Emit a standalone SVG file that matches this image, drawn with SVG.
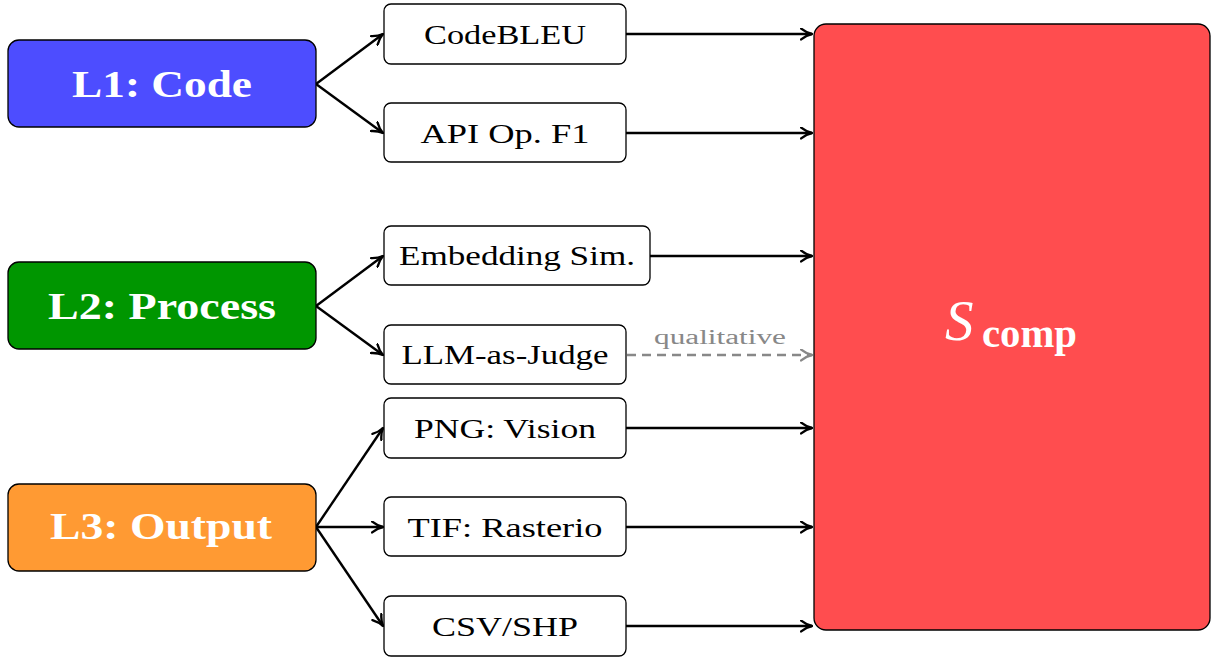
<svg xmlns="http://www.w3.org/2000/svg" width="1214" height="659" viewBox="0 0 1214 659">
<defs>
<style>
.lvl{stroke:#000;stroke-width:1.3}
.lt{font-family:"Liberation Serif",serif;font-weight:bold;font-size:37px;fill:#fff;text-anchor:middle}
.m{fill:#fff;stroke:#000;stroke-width:1.3}
.mt{font-family:"Liberation Serif",serif;font-size:28px;fill:#000;text-anchor:middle}
.c{fill:none;stroke:#000;stroke-width:2.4}
.d{fill:none;stroke:#888;stroke-width:2.4;stroke-dasharray:9,6}
</style>
<marker id="ah" viewBox="0 0 12 12" refX="11" refY="6" markerWidth="13" markerHeight="13" markerUnits="userSpaceOnUse" orient="auto">
<path d="M1,1 Q6,5 11,6 Q6,7 1,11" fill="none" stroke="#000" stroke-width="2.2" stroke-linecap="round" stroke-linejoin="round"/>
</marker>
<marker id="ahg" viewBox="0 0 12 12" refX="11" refY="6" markerWidth="13" markerHeight="13" markerUnits="userSpaceOnUse" orient="auto">
<path d="M1,1 Q6,5 11,6 Q6,7 1,11" fill="none" stroke="#888" stroke-width="2.2" stroke-linecap="round" stroke-linejoin="round"/>
</marker>
</defs>
<rect width="1214" height="659" fill="#fff"/>
<g id="connectors">
<path class="c" d="M316,84 L383,34" marker-end="url(#ah)"/>
<path class="c" d="M316,84 L383,133" marker-end="url(#ah)"/>
<path class="c" d="M316,306 L383,256" marker-end="url(#ah)"/>
<path class="c" d="M316,306 L383,355" marker-end="url(#ah)"/>
<path class="c" d="M316,527 L383,428" marker-end="url(#ah)"/>
<path class="c" d="M316,527 L383,527" marker-end="url(#ah)"/>
<path class="c" d="M316,527 L383,626" marker-end="url(#ah)"/>
<path class="c" d="M626,34 L812,34" marker-end="url(#ah)"/>
<path class="c" d="M626,133 L812,133" marker-end="url(#ah)"/>
<path class="c" d="M650,256 L812,256" marker-end="url(#ah)"/>
<path class="d" d="M627,355 L812,355" marker-end="url(#ahg)"/>
<text x="720" y="344" font-family="Liberation Serif,serif" font-size="20" fill="#888" text-anchor="middle" textLength="132" lengthAdjust="spacingAndGlyphs">qualitative</text>
<path class="c" d="M626,428 L812,428" marker-end="url(#ah)"/>
<path class="c" d="M626,527 L812,527" marker-end="url(#ah)"/>
<path class="c" d="M626,626 L812,626" marker-end="url(#ah)"/>
</g>
<g id="L1"><rect class="lvl" x="8" y="40" width="308" height="87" rx="11" fill="#4D4DFF"/><text class="lt" x="162" y="97" textLength="180" lengthAdjust="spacingAndGlyphs">L1:  Code</text></g>
<g id="L2"><rect class="lvl" x="8" y="262" width="308" height="87" rx="11" fill="#009600"/><text class="lt" x="162" y="319" textLength="228" lengthAdjust="spacingAndGlyphs">L2:  Process</text></g>
<g id="L3"><rect class="lvl" x="8" y="484" width="308" height="87" rx="11" fill="#FF9A33"/><text class="lt" x="161" y="539" textLength="222" lengthAdjust="spacingAndGlyphs">L3:  Output</text></g>
<g id="codebleu"><rect class="m" x="384" y="4" width="242" height="60" rx="7"/><text class="mt" x="505" y="44" textLength="162" lengthAdjust="spacingAndGlyphs">CodeBLEU</text></g>
<g id="apif1"><rect class="m" x="384" y="103" width="242" height="59" rx="7"/><text class="mt" x="505" y="143" textLength="169" lengthAdjust="spacingAndGlyphs">API Op. F1</text></g>
<g id="embsim"><rect class="m" x="384" y="226" width="266" height="59" rx="7"/><text class="mt" x="517" y="265" textLength="236" lengthAdjust="spacingAndGlyphs">Embedding Sim.</text></g>
<g id="llmjudge"><rect class="m" x="384" y="325" width="242" height="59" rx="7"/><text class="mt" x="505" y="364" textLength="207" lengthAdjust="spacingAndGlyphs">LLM-as-Judge</text></g>
<g id="png"><rect class="m" x="384" y="398" width="242" height="60" rx="7"/><text class="mt" x="505" y="438" textLength="182" lengthAdjust="spacingAndGlyphs">PNG: Vision</text></g>
<g id="tif"><rect class="m" x="384" y="497" width="242" height="59" rx="7"/><text class="mt" x="505" y="537" textLength="195" lengthAdjust="spacingAndGlyphs">TIF: Rasterio</text></g>
<g id="csv"><rect class="m" x="384" y="596" width="242" height="60" rx="7"/><text class="mt" x="505" y="636" textLength="146" lengthAdjust="spacingAndGlyphs">CSV/SHP</text></g>
<g id="scomp"><rect x="814" y="24" width="396" height="606" rx="12" fill="#FF4D4F" stroke="#000" stroke-width="1.3"/>
<text x="945" y="340" font-family="Liberation Serif,serif" fill="#fff"><tspan font-style="italic" font-size="57">S</tspan><tspan x="982" font-weight="bold" font-size="39" dy="7" textLength="95" lengthAdjust="spacingAndGlyphs">comp</tspan></text></g>
</svg>
